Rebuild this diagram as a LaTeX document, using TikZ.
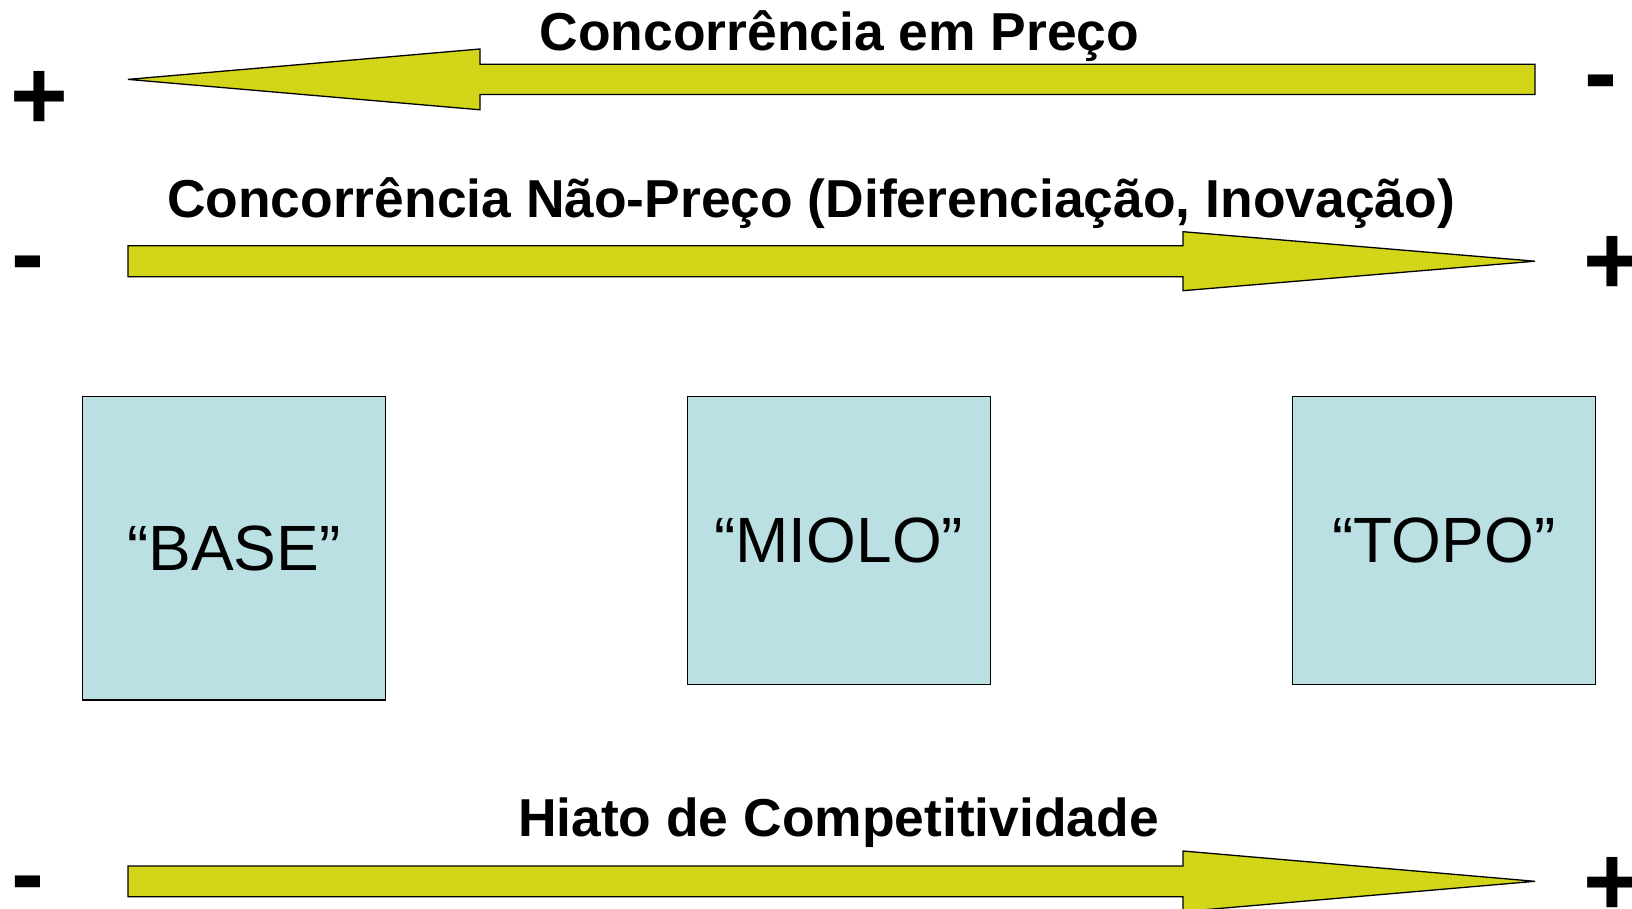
\documentclass[tikz,border=0pt]{standalone}
\usepackage{fontspec}
\setmainfont{Liberation Sans}
\definecolor{arrowfill}{RGB}{210,213,24}
\definecolor{boxfill}{RGB}{187,224,227}
\tikzset{
  bigarrow/.style={draw=black, line width=1.3pt, fill=arrowfill, line join=miter},
  levelbox/.style={draw=black, line width=1.4pt, fill=boxfill, rectangle, inner sep=0pt,
    minimum width=303pt, font=\fontsize{64}{70}\selectfont},
  title/.style={anchor=base, inner sep=0pt, font=\bfseries\fontsize{53.4}{60}\selectfont},
  sign/.style={anchor=center, inner sep=0pt, font=\bfseries\fontsize{99}{100}\selectfont}
}
\begin{document}
\begin{tikzpicture}[x=1pt,y=-1pt]
\useasboundingbox (0,0) rectangle (1632,909);
\clip (0,0) rectangle (1632,909);
% arrows
\draw[bigarrow] (128,79.4) -- (480,49) -- (480,64.3) -- (1535,64.3) -- (1535,94.5) -- (480,94.5) -- (480,109.8) -- cycle;
\draw[bigarrow] (128,245.7) -- (1183,245.7) -- (1183,231.7) -- (1535,261.2) -- (1183,290.7) -- (1183,276.7) -- (128,276.7) -- cycle;
\draw[bigarrow] (128,866) -- (1183,866) -- (1183,851) -- (1535,881.3) -- (1183,911.6) -- (1183,896.7) -- (128,896.7) -- cycle;
% titles
\node[title] (t1) at (839.5,50.5) {Concorrência em Preço};
\node[title] (t2) at (811,217.5) {Concorrência Não-Preço (Diferenciação, Inovação)};
\node[title] (t3) at (838.5,836) {Hiato de Competitividade};
% signs
\node[sign] (p1) at (39,100) {+};
\node[sign] (m1) at (1601,91) {-};
\node[sign] (m2) at (27.5,272) {-};
\node[sign] (p2) at (1612,265) {+};
\node[sign] (m3) at (27.5,892) {-};
\node[sign] (p3) at (1612,886) {+};
% boxes
\node[levelbox, minimum height=303.3pt] (base) at (233.7,548.3) {“BASE”};
\node[levelbox, minimum height=287.6pt] (miolo) at (838.7,540.5) {“MIOLO”};
\node[levelbox, minimum height=287.6pt] (topo) at (1444,540.5) {“TOPO”};
\end{tikzpicture}
\end{document}
